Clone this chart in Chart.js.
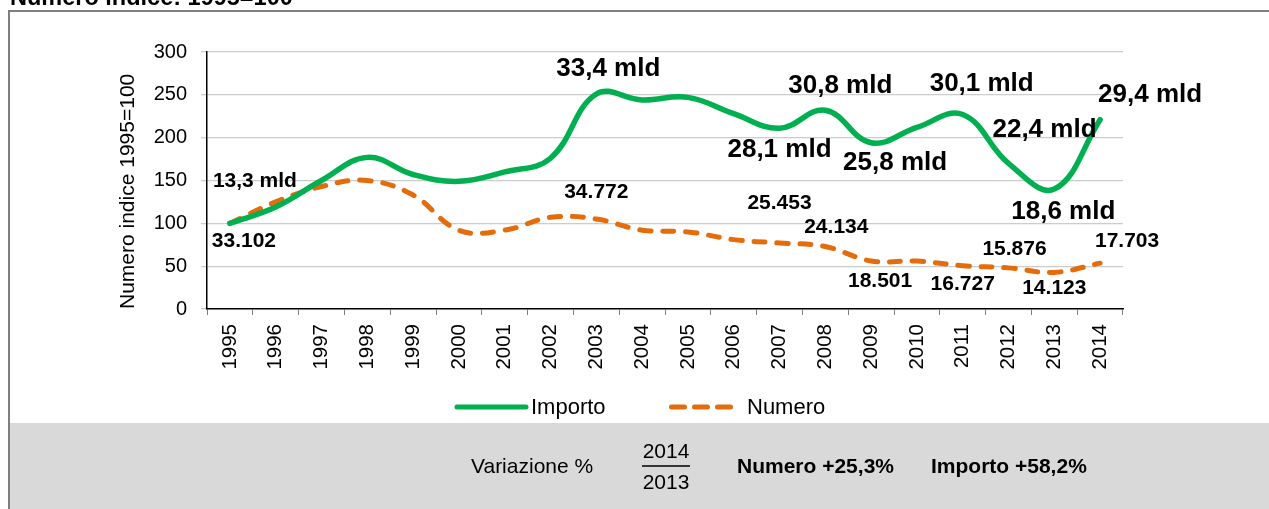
<!DOCTYPE html>
<html>
<head>
<meta charset="utf-8">
<script src="https://cdn.jsdelivr.net/npm/chart.js@4/dist/chart.umd.min.js"></script>
<style>
  html, body { margin: 0; padding: 0; background: #ffffff; }
  #wrap { width: 1269px; height: 509px; position: relative; }
</style>
</head>
<body>
<div id="wrap"><canvas id="c" width="1269" height="509"></canvas></div>
<script>
// ---- data ----
const years = ['1995','1996','1997','1998','1999','2000','2001','2002','2003','2004',
               '2005','2006','2007','2008','2009','2010','2011','2012','2013','2014'];
const importo = [100, 119, 150, 177, 157, 149, 160, 176, 251, 244,
                 247, 228, 211, 232, 194, 212, 227, 170, 140, 221];
const numero  = [100, 125, 143, 150, 133, 92, 92, 107, 105, 92,
                 90, 81, 77, 73, 56, 56, 50.5, 48, 42.7, 53.5];
const importoLabels = ['13,3 mld','','','','','','','','33,4 mld','',
                       '','','28,1 mld','30,8 mld','25,8 mld','','30,1 mld','22,4 mld','18,6 mld','29,4 mld'];
const numeroLabels  = ['33.102','','','','','','','','34.772','',
                       '','','25.453','24.134','18.501','','16.727','15.876','14.123','17.703'];
const yTicks = [0, 50, 100, 150, 200, 250, 300];
const seriesNames = ['Importo', 'Numero'];
const chartTitle = 'Numero indice: 1995=100';
const yTitle = 'Numero indice 1995=100';
const variazioneLabel = 'Variazione %';
const fracTop = '2014', fracBottom = '2013';
const variazioni = ['Numero +25,3%', 'Importo +58,2%'];

// ---- styles / label placement (offsets from point, px) ----
const GREEN = '#00b050', ORANGE = '#e46c0a';
const FONT = '"Liberation Sans", Arial, sans-serif';
const importoLabelStyle = [
  {dx:25, dy:-42, size:21}, null,null,null,null,null,null,null,
  {dx:12, dy:-25, size:26}, null,null,null,
  {dx:0, dy:22, size:26}, {dx:15, dy:-24, size:26}, {dx:24, dy:20, size:26}, null,
  {dx:19, dy:-31, size:26}, {dx:36, dy:-34, size:26}, {dx:9, dy:23, size:26}, {dx:50, dy:-25, size:26}
];
const numeroLabelStyle = [
  {dx:14, dy:18}, null,null,null,null,null,null,null,
  {dx:0, dy:-27}, null,null,null,
  {dx:0, dy:-40}, {dx:11, dy:-19}, {dx:9, dy:20}, null,
  {dx:0, dy:18}, {dx:6, dy:-19}, {dx:0, dy:16}, {dx:27, dy:-22}
];

const decorPlugin = {
  id: 'decor',
  beforeDraw(chart) {
    const ctx = chart.ctx;
    ctx.save();
    ctx.fillStyle = '#ffffff';
    ctx.fillRect(0, 0, chart.width, chart.height);
    // grey panel
    ctx.fillStyle = '#d9d9d9';
    ctx.fillRect(10, 423, chart.width - 10, chart.height - 423);
    // frame
    ctx.strokeStyle = '#7f7f7f';
    ctx.lineWidth = 2;
    ctx.beginPath();
    ctx.moveTo(9, chart.height);
    ctx.lineTo(9, 11);
    ctx.lineTo(chart.width + 2, 11);
    ctx.stroke();
    // title (clipped at top)
    ctx.fillStyle = '#000';
    ctx.font = 'bold 23.5px ' + FONT;
    ctx.textAlign = 'left';
    ctx.textBaseline = 'alphabetic';
    ctx.fillText(chartTitle, 10, 5);
    // panel texts
    ctx.textBaseline = 'middle';
    ctx.font = '21px ' + FONT;
    ctx.fillText(variazioneLabel, 471, 467);
    ctx.textAlign = 'center';
    ctx.fillText(fracTop, 666, 452);
    ctx.fillText(fracBottom, 666, 483);
    ctx.lineWidth = 1.5;
    ctx.strokeStyle = '#000';
    ctx.beginPath(); ctx.moveTo(642, 466); ctx.lineTo(690, 466); ctx.stroke();
    ctx.textAlign = 'left';
    ctx.font = 'bold 21px ' + FONT;
    ctx.fillText(variazioni[0], 737, 467);
    ctx.fillText(variazioni[1], 931, 467);
    // legend
    const ds = chart.data.datasets;
    ctx.lineCap = 'round';
    ctx.lineWidth = 5;
    ctx.strokeStyle = ds[0].borderColor;
    ctx.setLineDash([]);
    ctx.beginPath(); ctx.moveTo(457, 407); ctx.lineTo(526, 407); ctx.stroke();
    ctx.strokeStyle = ds[1].borderColor;
    ctx.setLineDash([13, 10]);
    ctx.beginPath(); ctx.moveTo(671.5, 407); ctx.lineTo(731, 407); ctx.stroke();
    ctx.setLineDash([]);
    ctx.fillStyle = '#000';
    ctx.font = '22px ' + FONT;
    ctx.fillText(ds[0].label, 531, 408);
    ctx.fillText(ds[1].label, 747, 408);
    ctx.restore();
  },
  afterDatasetsDraw(chart) {
    const ctx = chart.ctx;
    ctx.save();
    ctx.fillStyle = '#000';
    ctx.textAlign = 'center';
    ctx.textBaseline = 'middle';
    const m0 = chart.getDatasetMeta(0), m1 = chart.getDatasetMeta(1);
    importoLabels.forEach((t, i) => {
      const s = importoLabelStyle[i];
      if (!t || !s) return;
      const p = m0.data[i];
      ctx.font = 'bold ' + s.size + 'px ' + FONT;
      ctx.fillText(t, p.x + s.dx, p.y + s.dy);
    });
    ctx.font = 'bold 21px ' + FONT;
    numeroLabels.forEach((t, i) => {
      const s = numeroLabelStyle[i];
      if (!t || !s) return;
      const p = m1.data[i];
      ctx.fillText(t, p.x + s.dx, p.y + s.dy);
    });
    ctx.restore();
  }
};

new Chart(document.getElementById('c'), {
  type: 'line',
  data: {
    labels: years,
    datasets: [
      { label: seriesNames[0], data: importo, borderColor: GREEN, borderWidth: 5.5,
        tension: 0.4, pointRadius: 0, fill: false, borderCapStyle: 'round', borderJoinStyle: 'round' },
      { label: seriesNames[1], data: numero, borderColor: ORANGE, borderWidth: 5,
        borderDash: [11, 12], borderCapStyle: 'round',
        tension: 0.4, pointRadius: 0, fill: false }
    ]
  },
  options: {
    responsive: false,
    animation: false,
    devicePixelRatio: 1,
    layout: { padding: { left: 0, top: 52, right: 146, bottom: 0 } },
    plugins: { legend: { display: false }, title: { display: false }, tooltip: { enabled: false } },
    scales: {
      x: {
        offset: true,
        grid: { offset: true, drawOnChartArea: false, drawTicks: true, tickLength: 6, color: '#808080' },
        border: { color: '#000', width: 1.5 },
        ticks: { minRotation: 90, maxRotation: 90, padding: 9, color: '#000',
                 font: { family: FONT, size: 20.5 } },
        afterFit(scale) { scale.height = 200; }
      },
      y: {
        min: 0, max: 300,
        afterBuildTicks(scale) { scale.ticks = yTicks.map(v => ({ value: v })); },
        grid: { color: '#cccccc', tickLength: 6, lineWidth: 1.3 },
        border: { color: '#000', width: 1.5 },
        ticks: { padding: 14, color: '#000', font: { family: FONT, size: 20 } },
        title: { display: true, text: yTitle, align: 'start', color: '#000',
                 font: { family: FONT, size: 21, weight: 'normal' }, padding: { top: 116, bottom: 0 } },
        afterFit(scale) { scale.width = 207; }
      }
    }
  },
  plugins: [decorPlugin]
});
</script>
</body>
</html>
